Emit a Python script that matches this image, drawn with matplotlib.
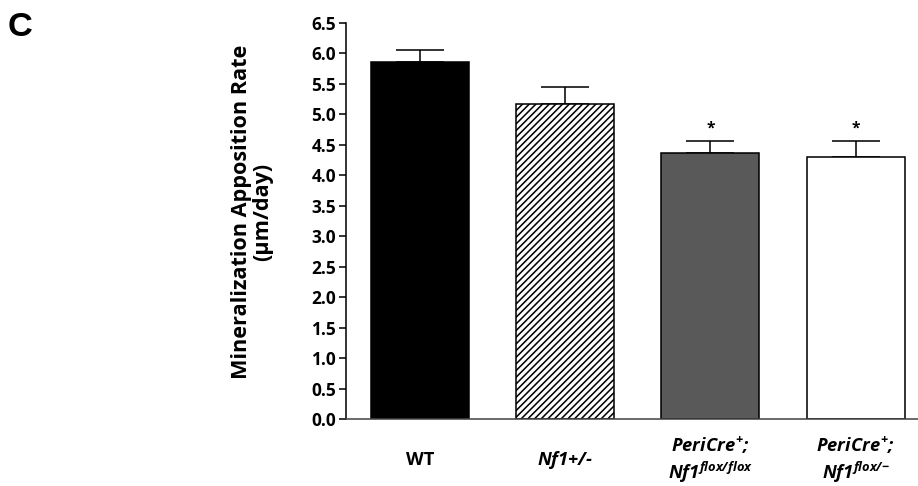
import matplotlib
matplotlib.use("Agg")
import matplotlib.pyplot as plt
import numpy as np

categories = ["WT", "$\\mathit{Nf1}$+/-", "$PeriCre^{+}$;\n$\\mathit{Nf1}^{flox/flox}$", "$PeriCre^{+}$;\n$\\mathit{Nf1}^{flox/\\mathrm{-}}$"]
values = [5.86, 5.17, 4.37, 4.30]
errors = [0.20, 0.28, 0.19, 0.26]
significant = [False, False, True, True]
yticks = [0.0, 0.5, 1.0, 1.5, 2.0, 2.5, 3.0, 3.5, 4.0, 4.5, 5.0, 5.5, 6.0, 6.5]

FONT = 'Open Sans'
plt.rcParams['font.family'] = [FONT, 'DejaVu Sans']
plt.rcParams['font.weight'] = 'bold'
plt.rcParams['mathtext.fontset'] = 'custom'
plt.rcParams['mathtext.rm'] = FONT + ':bold:italic'
plt.rcParams['mathtext.it'] = FONT + ':bold:italic'
plt.rcParams['mathtext.bf'] = FONT + ':bold'
plt.rcParams['hatch.linewidth'] = 1.4

DPI = 80
fig = plt.figure(figsize=(918 / DPI, 486 / DPI), dpi=DPI)
ax = fig.add_axes([346 / 918, 67 / 486, 572 / 918, 396 / 486])

x = np.arange(len(values))
faces = ['black', 'white', '#595959', 'white']
hatches = [None, '////', None, None]
for xi, v, e, fc, h in zip(x, values, errors, faces, hatches):
    ax.bar(xi, v, width=0.675, color=fc, edgecolor='black', linewidth=1.4, hatch=h, zorder=2)
ax.errorbar(x, values, yerr=[np.zeros(len(errors)), errors], fmt='none', ecolor='black',
            elinewidth=1.4, capsize=22, capthick=1.4, zorder=1)
for xi, v, e, s in zip(x, values, errors, significant):
    if s:
        ax.text(xi, v + e + 0.08, '*', ha='center', va='bottom', fontsize=14, fontweight='bold')

ax.set_xlim(-0.51, 3.43)
ax.set_ylim(0, 6.5)
ax.set_yticks(yticks)
ax.set_yticklabels([f"{t:.1f}" for t in yticks], fontsize=15.5, fontweight='bold')
ax.set_xticks(x)
ax.set_xticklabels(categories, fontsize=16.5, fontweight='bold', ha='center', va='center',
                   linespacing=1.2)
for lbl in ax.get_xticklabels()[1:]:
    lbl.set_style('italic')
ax.tick_params(axis='x', length=0, pad=36.5)
ax.tick_params(axis='y', length=6, width=1.4, direction='out', pad=3)

for s in ['top', 'right']:
    ax.spines[s].set_visible(False)
ax.spines['left'].set_linewidth(1.4)
ax.spines['bottom'].set_linewidth(1.4)
ax.spines['bottom'].set_color('#444444')

ax.set_ylabel("Mineralization Apposition Rate\n(µm/day)", fontsize=19.5, fontweight='bold', linespacing=1.0)
ax.yaxis.set_label_coords(-0.128, 0.523)

fig.text(0.008, 0.975, 'C', fontsize=31, fontweight='bold', family='Liberation Sans', va='top', ha='left')

fig.savefig('out.png', dpi=DPI)
